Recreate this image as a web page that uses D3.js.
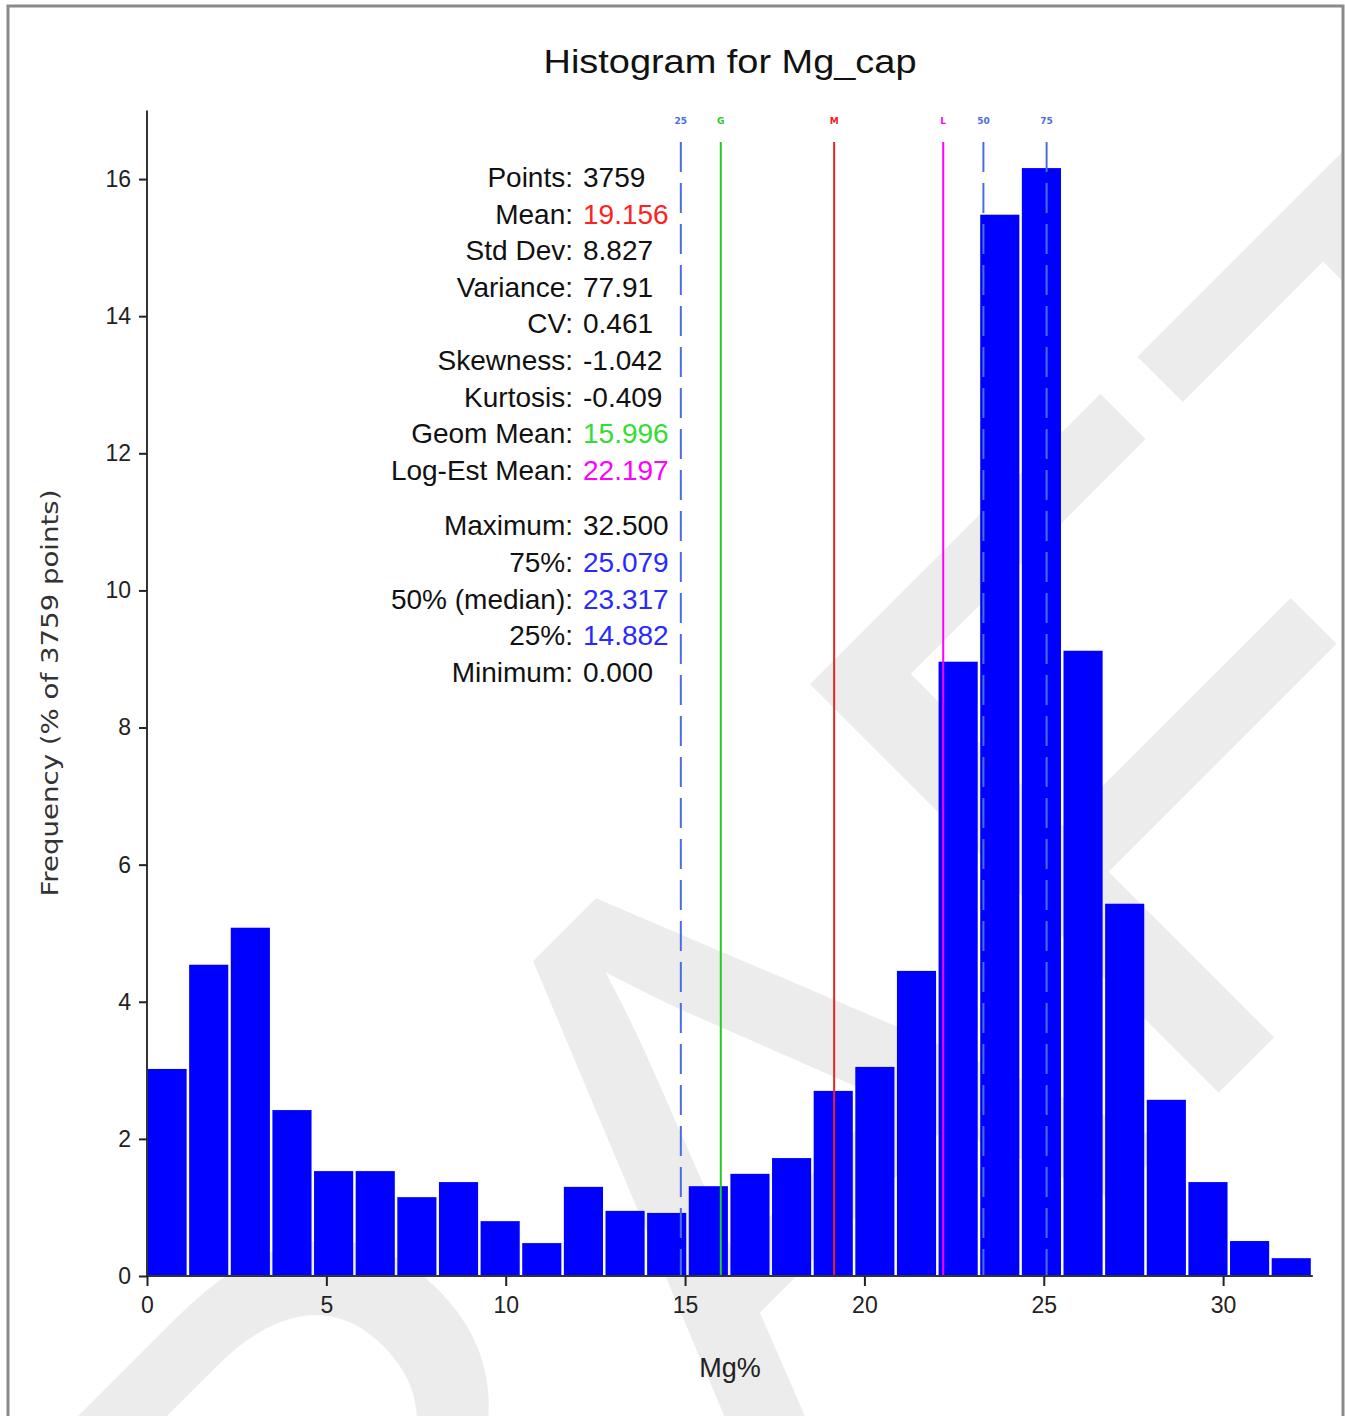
<!DOCTYPE html>
<html>
<head>
<meta charset="utf-8">
<script src="https://cdn.jsdelivr.net/npm/d3@7"></script>
<style>
  html, body { margin: 0; padding: 0; background: #fff; }
  svg { display: block; }
</style>
</head>
<body>
<svg id="chart" width="1345" height="1416"></svg>
<script>
// ---------- data ----------
const title = "Histogram for Mg_cap";
const xLabel = "Mg%";
const yLabel = "Frequency (% of 3759 points)";
const dataMin = 0.0;
const dataMax = 32.5;
// frequency (% of points) for each of the 28 equal-width bins from min to max
const frequencies = [3.02, 4.54, 5.08, 2.42, 1.53, 1.53, 1.15, 1.37, 0.80, 0.48,
                     1.30, 0.95, 0.92, 1.31, 1.49, 1.72, 2.70, 3.05, 4.45, 8.96,
                     15.48, 16.16, 9.12, 5.43, 2.57, 1.37, 0.51, 0.26];
const xTicks = [0, 5, 10, 15, 20, 25, 30];
const yTicks = [0, 2, 4, 6, 8, 10, 12, 14, 16];
// reference lines: label, value, colour, dashed
const markerLabels = ["25", "G", "M", "L", "50", "75"];
const markerValues = [14.882, 15.996, 19.156, 22.197, 23.317, 25.079];
const markerColors = ["#4a6ee0", "#22cc22", "#ee2222", "#ff00ff", "#4a6ee0", "#4a6ee0"];
const markerDashed = [true, false, false, false, true, true];
// statistics box
const statLabels = ["Points:", "Mean:", "Std Dev:", "Variance:", "CV:", "Skewness:", "Kurtosis:",
                    "Geom Mean:", "Log-Est Mean:", "Maximum:", "75%:", "50% (median):", "25%:", "Minimum:"];
const statValues = ["3759", "19.156", "8.827", "77.91", "0.461", "-1.042", "-0.409",
                    "15.996", "22.197", "32.500", "25.079", "23.317", "14.882", "0.000"];
const statColors = ["#111", "#ff2222", "#111", "#111", "#111", "#111", "#111",
                    "#33dd33", "#ff00ff", "#111", "#2a2aff", "#2a2aff", "#2a2aff", "#111"];
const statGapAfter = 8; // index after which an extra gap appears

// ---------- layout ----------
const svg = d3.select("#chart");
const plot = {left: 147, right: 1312.8, top: 110.5, bottom: 1276};
const x = d3.scaleLinear().domain([0, 32.5]).range([plot.left, plot.right]);
const y = d3.scaleLinear().domain([0, 17]).range([plot.bottom, plot.top]);

// background
svg.append("rect").attr("x", 0).attr("y", 0).attr("width", 1345).attr("height", 1416).attr("fill", "#fff");

// watermark (clipped to the frame)
svg.append("clipPath").attr("id", "frameClip")
  .append("rect").attr("x", 8).attr("y", 6).attr("width", 1335).attr("height", 1410);
svg.append("g").attr("clip-path", "url(#frameClip)")
  .append("text")
  .attr("transform", "translate(700,1200) rotate(-45)")
  .attr("text-anchor", "middle")
  .attr("dominant-baseline", "central")
  .attr("font-family", "Liberation Sans, Arial, sans-serif")
  .attr("font-size", 840)
  .attr("fill", "#ececec")
  .text("DRAFT");

svg.append("rect").attr("x", 8).attr("y", 6).attr("width", 1335).attr("height", 1420)
  .attr("fill", "none").attr("stroke", "#8a8a8a").attr("stroke-width", 3);

// title
svg.append("text")
  .attr("x", 730).attr("y", 73)
  .attr("text-anchor", "middle")
  .attr("font-family", "Liberation Sans, Arial, sans-serif")
  .attr("font-size", 33)
  .attr("textLength", 373).attr("lengthAdjust", "spacingAndGlyphs")
  .attr("fill", "#111")
  .text(title);

// bars
const nBins = frequencies.length;
const binW = (dataMax - dataMin) / nBins;
svg.append("g").selectAll("rect").data(frequencies).join("rect")
  .attr("x", (d, i) => x(dataMin + i * binW) + 0.5)
  .attr("width", (d, i) => x(dataMin + (i + 1) * binW) - x(dataMin + i * binW) - 2.5)
  .attr("y", d => y(d))
  .attr("height", d => y(0) - y(d))
  .attr("fill", "#0000ff");

// marker lines
const markers = markerValues.map((v, i) => ({v, label: markerLabels[i], color: markerColors[i], dashed: markerDashed[i]}));
const mg = svg.append("g");
mg.selectAll("line").data(markers).join("line")
  .attr("x1", d => x(d.v)).attr("x2", d => x(d.v))
  .attr("y1", 142).attr("y2", plot.bottom)
  .attr("stroke", d => d.color)
  .attr("stroke-width", 2)
  .attr("stroke-dasharray", d => d.dashed ? "30,11" : null);
mg.selectAll("text").data(markers).join("text")
  .attr("x", d => x(d.v)).attr("y", 124)
  .attr("text-anchor", "middle")
  .attr("font-family", "DejaVu Sans, sans-serif")
  .attr("font-size", 9).attr("font-weight", "bold")
  .attr("fill", d => d.color)
  .text(d => d.label);

// axes
const yAxis = d3.axisLeft(y).tickValues(yTicks).tickSize(8).tickSizeOuter(0).tickPadding(8);
const gy = svg.append("g").attr("transform", `translate(${plot.left},0)`).call(yAxis);
const xAxis = d3.axisBottom(x).tickValues(xTicks).tickSize(10).tickSizeOuter(0).tickPadding(11);
const gx = svg.append("g").attr("transform", `translate(0,${plot.bottom})`).call(xAxis);
[gx, gy].forEach(g => {
  g.select(".domain").attr("stroke", "#333").attr("stroke-width", 2);
  g.selectAll(".tick line").attr("stroke", "#222").attr("stroke-width", 2);
  g.selectAll(".tick text").attr("font-family", "Liberation Sans, Arial, sans-serif")
    .attr("font-size", 23).attr("fill", "#222");
});
gy.select(".domain").attr("d", `M0,${plot.bottom}V${plot.top}`);
gx.select(".domain").attr("d", `M${plot.left},0H${plot.right}`);

// axis titles
svg.append("text")
  .attr("x", 730).attr("y", 1377)
  .attr("text-anchor", "middle")
  .attr("font-family", "Liberation Sans, Arial, sans-serif")
  .attr("font-size", 27).attr("fill", "#222")
  .text(xLabel);
svg.append("text")
  .attr("transform", "translate(58,693) rotate(-90)")
  .attr("text-anchor", "middle")
  .attr("font-family", "DejaVu Sans, sans-serif")
  .attr("font-size", 23).attr("fill", "#333")
  .attr("textLength", 407).attr("lengthAdjust", "spacingAndGlyphs")
  .text(yLabel);

// statistics box
const statY = statLabels.map((s, i) => 187 + i * 36.6 + (i > statGapAfter ? 19 : 0));
const sg = svg.append("g").attr("font-family", "Liberation Sans, Arial, sans-serif").attr("font-size", 28);
sg.selectAll("text.lab").data(statLabels).join("text").attr("class", "lab")
  .attr("x", 573).attr("y", (d, i) => statY[i])
  .attr("text-anchor", "end").attr("fill", "#111")
  .text(d => d);
sg.selectAll("text.val").data(statValues).join("text").attr("class", "val")
  .attr("x", 583).attr("y", (d, i) => statY[i])
  .attr("fill", (d, i) => statColors[i])
  .text(d => d);
</script>
</body>
</html>
